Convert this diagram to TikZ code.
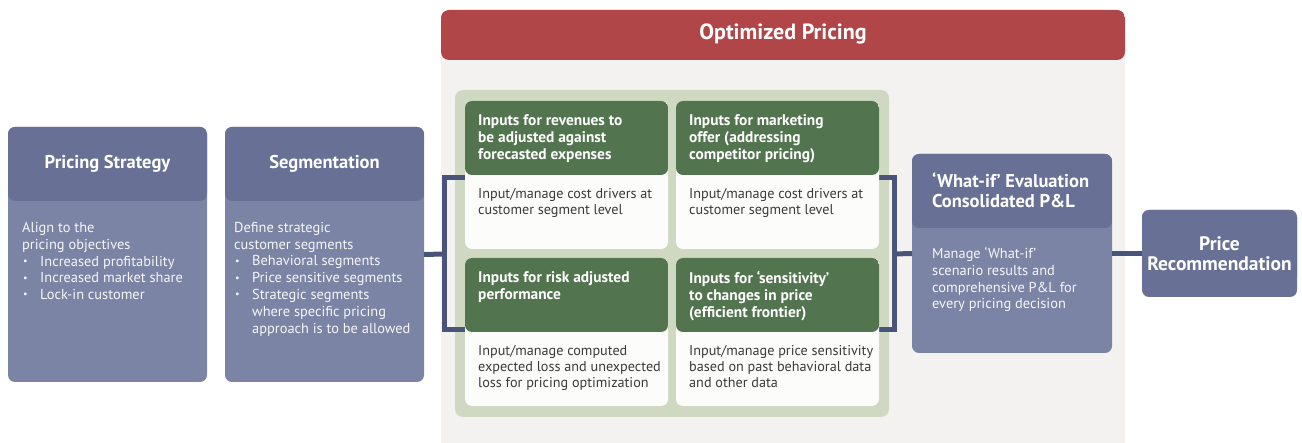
\documentclass[tikz,border=0pt]{standalone}
\usepackage{fontspec}
\setmainfont{PT Sans}
\usetikzlibrary{positioning}

\definecolor{slatehead}{HTML}{687195}
\definecolor{slatebody}{HTML}{7C84A6}
\definecolor{linkblue}{HTML}{4A547A}
\definecolor{optred}{HTML}{B04648}
\definecolor{panelgray}{HTML}{F4F2F0}
\definecolor{greenlight}{HTML}{CFD8C0}
\definecolor{greendark}{HTML}{52744E}
\definecolor{cardwhite}{HTML}{FCFCFB}
\definecolor{cardtext}{HTML}{3A3A3A}

\newcommand{\bul}{\makebox[18pt][l]{\hspace{1pt}\raisebox{0.12em}{\scalebox{0.7}{\textbullet}}}}
\newcommand{\bulind}{\hspace*{18pt}}

\begin{document}
\begin{tikzpicture}[x=1pt, y=-1pt,
        box/.style = {rounded corners=7pt, inner sep=0pt, outer sep=0pt, fill=#1,
            path picture={\fill[slatehead] (path picture bounding box.north west)
                rectangle ([yshift=-74pt]path picture bounding box.north east);}},
        box/.default = slatebody,
        card/.style = {rounded corners=7pt, inner sep=0pt, outer sep=0pt, fill=cardwhite,
            minimum width=203pt, minimum height=148pt,
            path picture={\fill[greendark] (path picture bounding box.north west)
                rectangle ([yshift=-74pt]path picture bounding box.north east);}},
        title/.style = {text=white, font=\fontsize{18.5}{19.5}\selectfont\bfseries, align=left, inner sep=0pt},
        body/.style = {text=white!93!slatebody, font=\fontsize{14.4}{16.8}\selectfont, align=left, inner sep=0pt, anchor=north west},
        cardhead/.style = {text=white, font=\fontsize{15.4}{17}\selectfont\bfseries, align=left, inner sep=0pt, anchor=north west},
        cardbody/.style = {text=cardtext, font=\fontsize{14.2}{16.2}\selectfont, align=left, inner sep=0pt, anchor=north west},
        link/.style = {linkblue, line width=5pt}
    ]
    \useasboundingbox (0,0) rectangle (1302,443);

    % left side
    \node[box, minimum width=199pt, minimum height=255pt] (strat) at (107.5,254.5) {};
    \node[box, minimum width=199pt, minimum height=255pt, right=18pt of strat] (seg) {};
    \node[title] at ([yshift=-36.5pt]strat.north) {Pricing Strategy};
    \node[title] at ([yshift=-36.5pt]seg.north) {Segmentation};
    \node[body] at ([xshift=14pt, yshift=-95pt]strat.north west)
        {Align to the\\pricing objectives\\\bul Increased profitability\\\bul Increased market share\\\bul Lock-in customer};
    \node[body] at ([xshift=9pt, yshift=-95pt]seg.north west)
        {Define strategic\\customer segments\\\bul Behavioral segments\\\bul Price sensitive segments\\\bul Strategic segments\\\bulind where specific pricing\\\bulind approach is to be allowed};

    % optimized pricing panel
    \node[rounded corners=8pt, inner sep=0pt, outer sep=0pt, fill=panelgray,
        minimum width=684pt, minimum height=442pt,
        path picture={\fill[optred] (path picture bounding box.north west)
            rectangle ([yshift=-50pt]path picture bounding box.north east);}]
        (opt) at (783,231) {};
    \node[title, font=\fontsize{22}{24}\selectfont\bfseries] at ([yshift=-24pt]opt.north) {Optimized Pricing};
    \node[rounded corners=8pt, fill=greenlight, inner sep=0pt, minimum width=434pt, minimum height=327pt]
        (inputs) at (672,253.5) {};

    % brackets
    \coordinate (brl) at (444,254);
    \coordinate (brlt) at (444,178);
    \coordinate (brlb) at (444,330);
    \coordinate (brr) at (894,254);
    \coordinate (brrt) at (894,178);
    \coordinate (brrb) at (894,330);
    \draw[link] (seg.east) -- (brl);
    \draw[link] (600,178) -- (brlt) -- (brlb) -- (600,330);
    \draw[link] (740,178) -- (brrt) -- (brrb) -- (740,330);

    % input cards
    \node[card] (revenue) at (566.5,175) {};
    \node[card, right=8pt of revenue] (offer) {};
    \node[card, below=9pt of revenue] (risk) {};
    \node[card, right=8pt of risk] (sens) {};
    \node[cardhead] at ([xshift=13pt, yshift=-13pt]revenue.north west)
        {Inputs for revenues to\\be adjusted against\\forecasted expenses};
    \node[cardhead] at ([xshift=13pt, yshift=-13pt]offer.north west)
        {Inputs for marketing\\offer (addressing\\competitor pricing)};
    \node[cardhead] at ([xshift=13pt, yshift=-13pt]risk.north west)
        {Inputs for risk adjusted\\performance};
    \node[cardhead] at ([xshift=13pt, yshift=-13pt]sens.north west)
        {Inputs for ‘sensitivity’\\to changes in price\\(efficient frontier)};
    \node[cardbody] at ([xshift=13pt, yshift=-87pt]revenue.north west)
        {Input/manage cost drivers at\\customer segment level};
    \node[cardbody] at ([xshift=13pt, yshift=-87pt]offer.north west)
        {Input/manage cost drivers at\\customer segment level};
    \node[cardbody] at ([xshift=13pt, yshift=-87pt]risk.north west)
        {Input/manage computed\\expected loss and unexpected\\loss for pricing optimization};
    \node[cardbody] at ([xshift=13pt, yshift=-87pt]sens.north west)
        {Input/manage price sensitivity\\based on past behavioral data\\and other data};

    % right side
    \node[box, minimum width=200pt, minimum height=199pt] (whatif) at (1012,253.5) {};
    \node[title, anchor=west] at ([xshift=20pt, yshift=-36pt]whatif.north west)
        {‘What-if’ Evaluation\\Consolidated P\&L};
    \node[body] at ([xshift=20pt, yshift=-93pt]whatif.north west)
        {Manage ‘What-if’\\scenario results and\\comprehensive P\&L for\\every pricing decision};
    \node[box=slatehead, minimum width=155pt, minimum height=87pt, right=30pt of whatif,
        text=white, font=\fontsize{19.5}{20}\selectfont\bfseries, align=center] (price)
        {Price\\Recommendation};

    \draw[link] (brr) -- (whatif.west);
    \draw[link] (whatif.east) -- (price.west);
\end{tikzpicture}
\end{document}
